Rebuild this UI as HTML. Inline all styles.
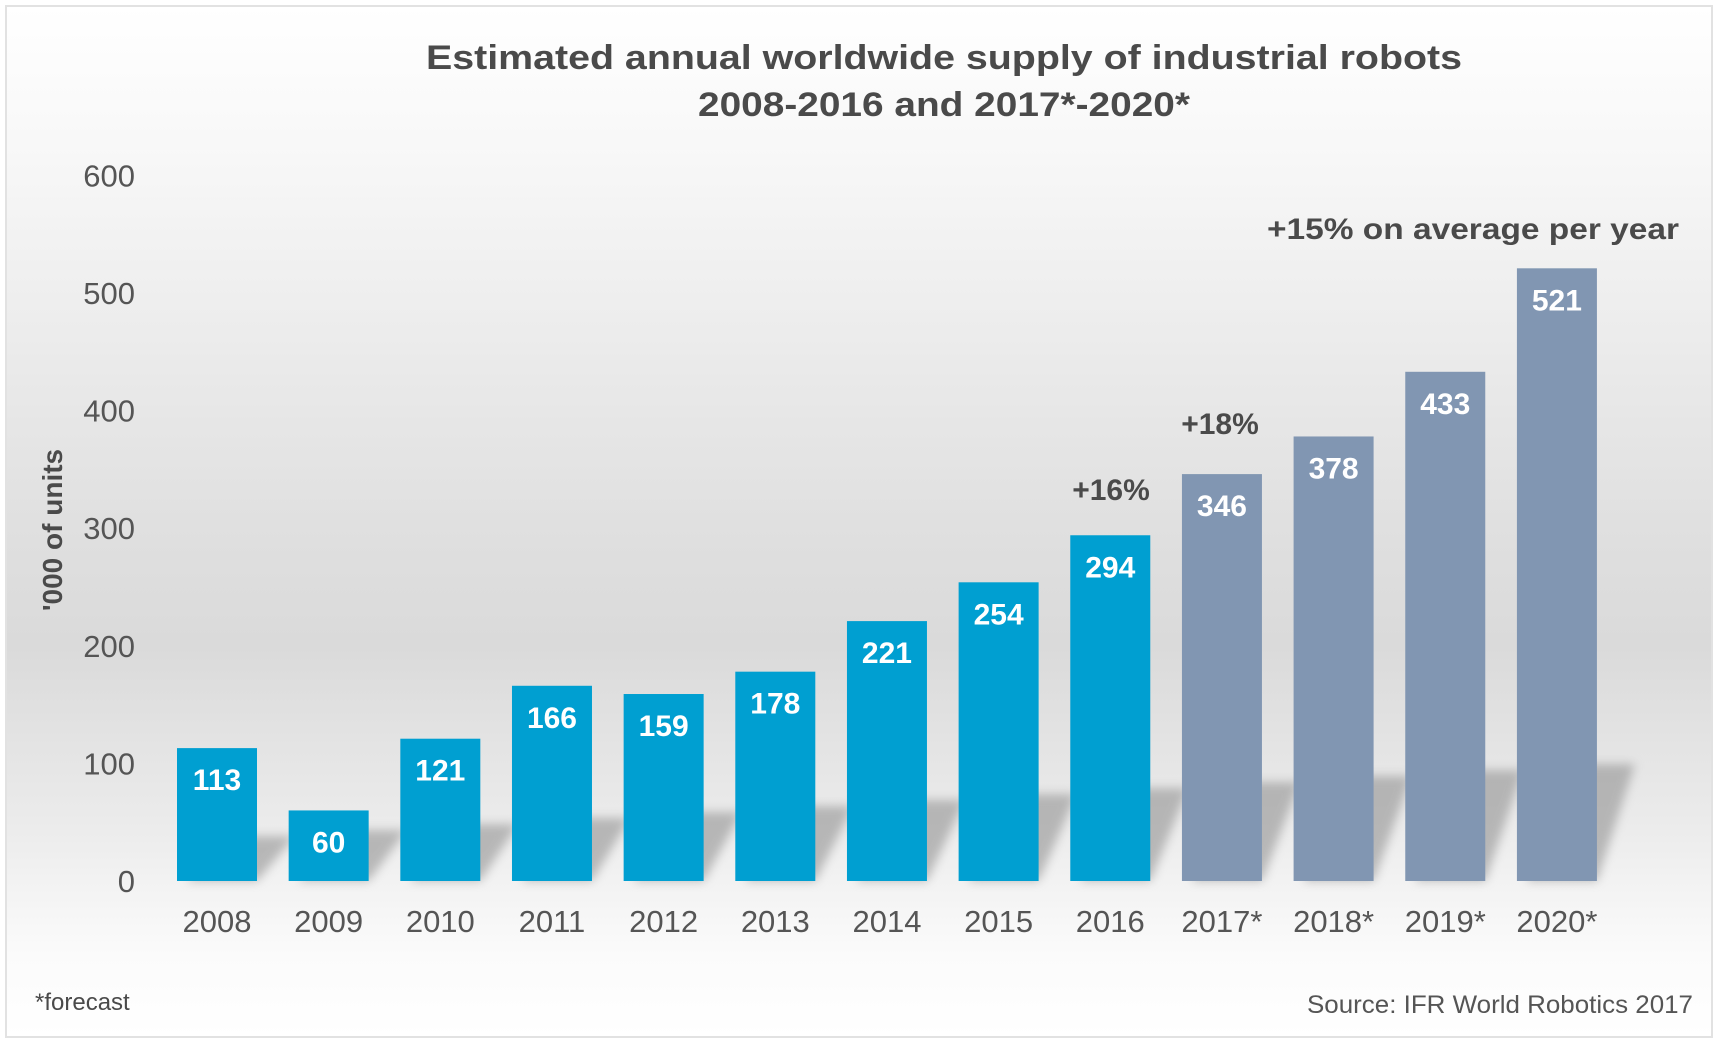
<!DOCTYPE html>
<html><head><meta charset="utf-8">
<style>
html,body{margin:0;padding:0;background:#fff;}
svg{display:block;font-family:"Liberation Sans",Arial,sans-serif;}
</style></head>
<body>
<svg id="chart" width="1715" height="1045" viewBox="0 0 1715 1045" xmlns="http://www.w3.org/2000/svg">
<defs>
<linearGradient id="bg" x1="0" y1="0" x2="0" y2="1">
<stop offset="0" stop-color="#ffffff"/>
<stop offset="0.15" stop-color="#f7f7f7"/>
<stop offset="0.5" stop-color="#e0e0e0"/>
<stop offset="0.62" stop-color="#dadada"/>
<stop offset="0.8" stop-color="#ececec"/>
<stop offset="0.92" stop-color="#fbfbfb"/>
<stop offset="1" stop-color="#ffffff"/>
</linearGradient>
<filter id="blur" x="-50%" y="-50%" width="200%" height="200%"><feGaussianBlur stdDeviation="5"/></filter>
</defs>
<rect x="0" y="0" width="1715" height="1045" fill="#fff"/>
<rect x="6" y="6" width="1706" height="1031" fill="url(#bg)" stroke="#e2e2e2" stroke-width="2"/>
<text x="944" y="69" text-anchor="middle" font-size="34" font-weight="bold" fill="#4a4a4a" textLength="1036" lengthAdjust="spacingAndGlyphs">Estimated  annual  worldwide supply  of industrial  robots</text>
<text x="944" y="116" text-anchor="middle" font-size="34" font-weight="bold" fill="#4a4a4a" textLength="492" lengthAdjust="spacingAndGlyphs">2008-2016  and  2017*-2020*</text>
<text transform="translate(62,530) rotate(-90)" text-anchor="middle" font-size="28" font-weight="bold" fill="#4a4a4a">'000 of units</text>
<g id="shadows"></g>
<g id="yticks"></g>
<g id="bars"></g>
<g id="xlabels"></g>
<text x="1111" y="500" text-anchor="middle" font-size="30" font-weight="bold" fill="#4a4a4a">+16%</text>
<text x="1220" y="434" text-anchor="middle" font-size="30" font-weight="bold" fill="#4a4a4a">+18%</text>
<text x="1679" y="239" text-anchor="end" font-size="30" font-weight="bold" fill="#4a4a4a" textLength="412" lengthAdjust="spacingAndGlyphs">+15% on average per year</text>
<text x="35" y="1010" font-size="24" fill="#4a4a4a">*forecast</text>
<text x="1693" y="1013" text-anchor="end" font-size="25" fill="#555" textLength="386" lengthAdjust="spacingAndGlyphs">Source: IFR World Robotics 2017</text>
</svg>
<script>
const years = ["2008","2009","2010","2011","2012","2013","2014","2015","2016","2017*","2018*","2019*","2020*"];
const values = [113,60,121,166,159,178,221,254,294,346,378,433,521];
const forecast = [false,false,false,false,false,false,false,false,false,true,true,true,true];
const yTicks = [0,100,200,300,400,500,600];

const NS = "http://www.w3.org/2000/svg";
const baseY = 881, pxPerUnit = 1.176;
const x0 = 177, pitch = 111.66, barW = 80;
function yScale(v){ return baseY - v * pxPerUnit; }
function xScale(i){ return x0 + i * pitch; }
function mk(tag, attrs){ const e = document.createElementNS(NS, tag); for (const k in attrs) e.setAttribute(k, attrs[k]); return e; }

const gTicks = document.getElementById("yticks");
yTicks.forEach(t => {
  const tx = mk("text", {x:135, y:yScale(t)+11, "text-anchor":"end", "font-size":31, fill:"#555"});
  
  
  tx.textContent = t;
  gTicks.appendChild(tx);
});

const gSh = document.getElementById("shadows");
const gBars = document.getElementById("bars");
const gX = document.getElementById("xlabels");
values.forEach((v, i) => {
  const x = xScale(i);
  const sh = 45 + i * 6;
  const poly = mk("polygon", {points:`${x+10},${baseY} ${x+barW},${baseY} ${x+barW+38},${baseY-sh} ${x+48},${baseY-sh}`, fill:"#8a8a8a", opacity:"0.55", filter:"url(#blur)"});
  
  
  gSh.appendChild(poly);

  const r = mk("rect", {x:x, y:yScale(v), width:barW, height:baseY - yScale(v), fill: forecast[i] ? "#8196b2" : "#009fd1"});
  
  
  gBars.appendChild(r);

  const vl = mk("text", {x:x+barW/2, y:yScale(v)+42, "text-anchor":"middle", "font-size":30, "font-weight":"bold", fill:"#fff"});
  
  
  vl.textContent = v;
  gBars.appendChild(vl);

  const xl = mk("text", {x:x+barW/2, y:932, "text-anchor":"middle", "font-size":31, fill:"#555"});
  
  
  xl.textContent = years[i];
  gX.appendChild(xl);
});
</script>
</body></html>
